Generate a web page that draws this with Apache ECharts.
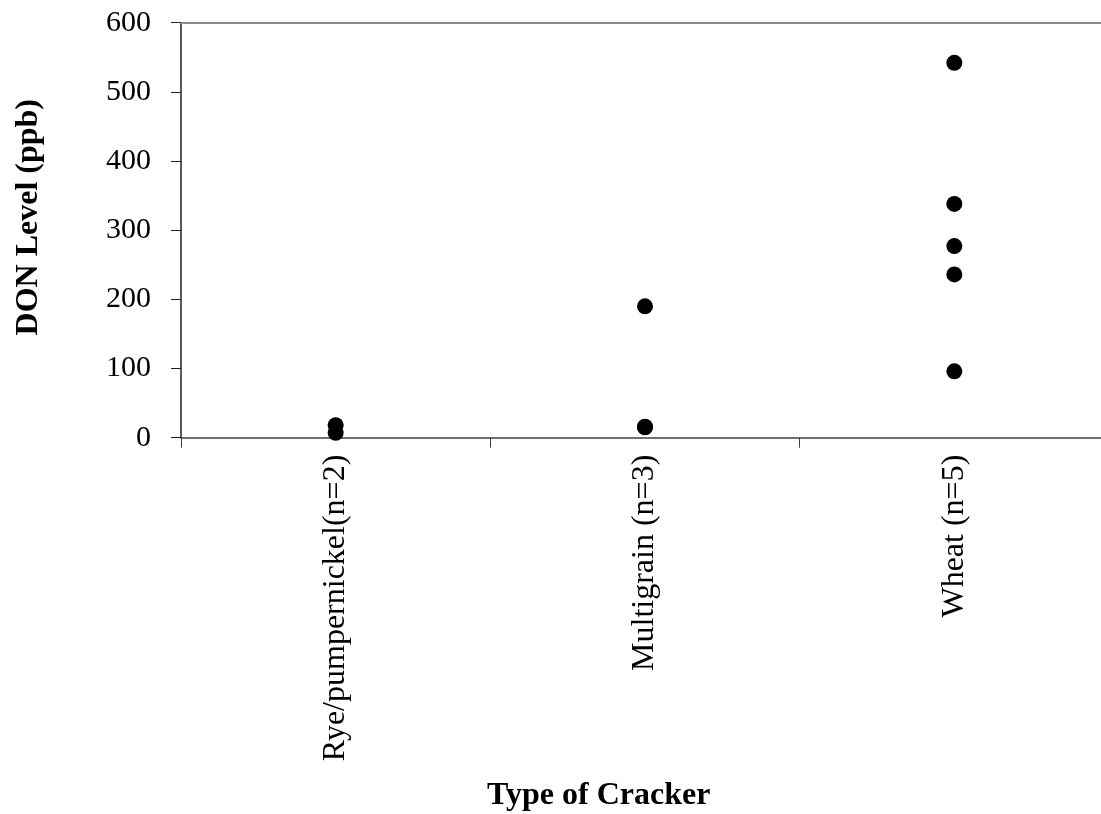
<!DOCTYPE html>
<html>
<head>
<meta charset="utf-8">
<style>
  html, body { margin: 0; padding: 0; background: #fff; overflow: hidden; }
  #chart { width: 1110px; height: 814px; }
</style>
<script src="https://cdn.jsdelivr.net/npm/echarts@6/dist/echarts.min.js"></script>
</head>
<body>
<div id="chart"></div>
<script>
// Cracker types on the x axis
const categories = ['Rye/pumpernickel(n=2)', 'Multigrain (n=3)', 'Wheat (n=5)'];

// DON levels (ppb) for each sample, grouped by cracker type
const ryeValues = [18, 7];
const multigrainValues = [190, 16, 15];
const wheatValues = [542, 338, 277, 236, 96];

// Value axis ticks
const yTicks = [0, 100, 200, 300, 400, 500, 600];

const groups = [ryeValues, multigrainValues, wheatValues];
const points = [];
groups.forEach((vals, i) => vals.forEach(v => points.push([categories[i], v])));

const FONT = '"Liberation Serif", "Times New Roman", serif';

// the last category runs a little past the right edge of the window
const chart = echarts.init(document.getElementById('chart'), null, { renderer: 'canvas' });
chart.setOption({
  animation: false,
  backgroundColor: '#ffffff',
  grid: { left: 181, top: 22.7, right: 1, height: 415, containLabel: false },
  xAxis: [
    {
      type: 'category',
      data: categories,
      position: 'bottom',
      boundaryGap: true,
      axisLine: { lineStyle: { color: '#404040', width: 1.5 } },
      axisTick: { show: true, length: 10, inside: false, lineStyle: { color: '#404040', width: 1 } },
      axisLabel: {
        rotate: 90, margin: 17, color: '#000',
        fontFamily: FONT, fontSize: 32
      },
      splitLine: { show: false }
    },
    {
      // plain frame line along the top edge of the plot
      type: 'category',
      data: categories,
      position: 'top',
      axisLine: { lineStyle: { color: '#8c8c8c', width: 2 } },
      axisTick: { show: false },
      axisLabel: { show: false },
      splitLine: { show: false }
    }
  ],
  yAxis: {
    type: 'value',
    min: yTicks[0],
    max: yTicks[yTicks.length - 1],
    interval: 100,
    axisLine: { show: true, lineStyle: { color: '#202020', width: 1.5 } },
    axisTick: { show: true, length: 10, inside: false, lineStyle: { color: '#202020', width: 1 } },
    axisLabel: { margin: 30, color: '#000', fontFamily: FONT, fontSize: 30 },
    splitLine: { show: false }
  },
  graphic: [
    {
      type: 'text',
      left: 13, top: 99,
      rotation: Math.PI / 2,
      originX: 0, originY: 0,
      style: {
        text: 'DON Level (ppb)',
        font: 'bold 32px ' + FONT,
        fill: '#000'
      }
    },
    {
      type: 'text',
      left: 487, top: 780,
      style: {
        text: 'Type of Cracker',
        font: 'bold 32px ' + FONT,
        fill: '#000'
      }
    }
  ],
  series: [{
    type: 'scatter',
    xAxisIndex: 0,
    data: points,
    symbol: 'circle',
    symbolSize: 16,
    itemStyle: { color: '#000', opacity: 1 }
  }]
});
</script>
</body>
</html>
